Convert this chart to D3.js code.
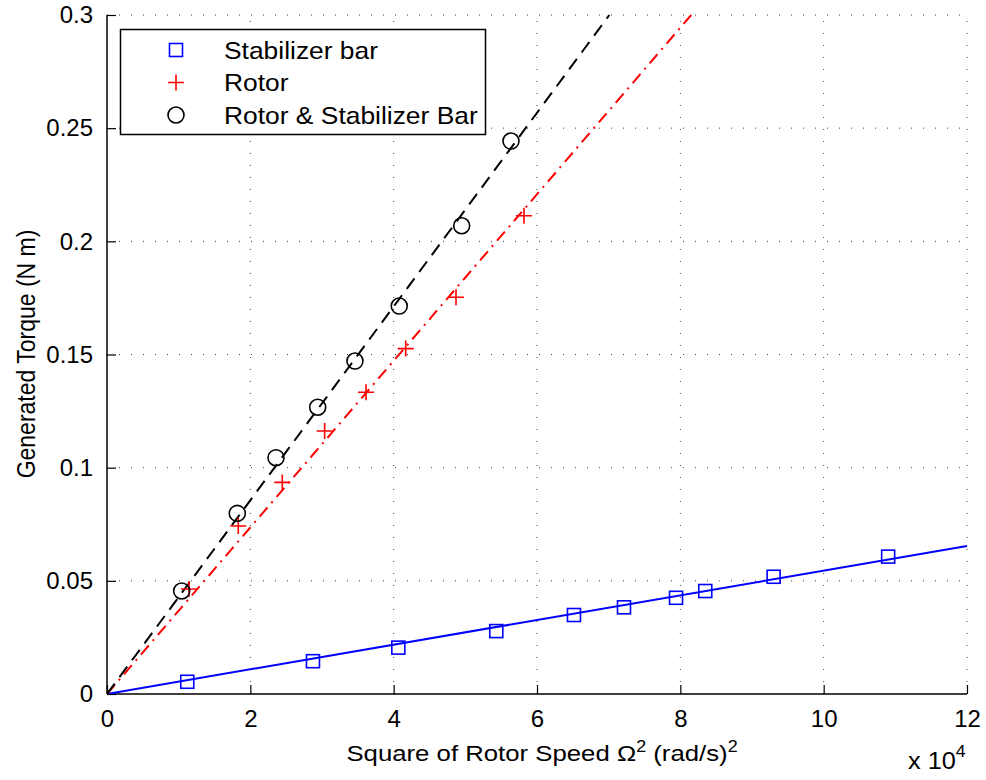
<!DOCTYPE html>
<html>
<head>
<meta charset="utf-8">
<script src="https://cdn.jsdelivr.net/npm/d3@7"></script>
<style>
  html, body { margin: 0; padding: 0; background: #fff; }
  svg { display: block; font-family: "Liberation Sans", Arial, Helvetica, sans-serif; }
</style>
</head>
<body>
<svg id="chart" width="986" height="780"></svg>
<script>
// Measured torque vs. squared rotor speed (x in units of 1e4 (rad/s)^2)
const stabX = [1.12, 2.874, 4.065, 5.432, 6.516, 7.214, 7.94, 8.348, 9.302, 10.9];
const stabY = [0.0054, 0.0145, 0.0205, 0.0278, 0.0349, 0.0383, 0.0425, 0.0455, 0.0518, 0.0607];

const rotorX = [1.144, 1.832, 2.446, 3.037, 3.614, 4.168, 4.87, 5.818];
const rotorY = [0.0464, 0.0742, 0.0935, 0.1162, 0.1333, 0.1526, 0.1753, 0.2113];

const bothX = [1.042, 1.818, 2.358, 2.94, 3.46, 4.078, 4.949, 5.637];
const bothY = [0.0455, 0.0798, 0.1044, 0.1267, 0.1471, 0.1714, 0.2069, 0.2443];

// Slopes of the least-squares lines through the origin (N m per 1e4 (rad/s)^2)
const fitSlopes = [0.00545, 0.0368, 0.0428];

const xTicks = [0, 2, 4, 6, 8, 10, 12];
const yTicks = [0, 0.05, 0.1, 0.15, 0.2, 0.25, 0.3];
const yTickLabels = ["0", "0.05", "0.1", "0.15", "0.2", "0.25", "0.3"];
const legendLabels = ["Stabilizer bar", "Rotor", "Rotor & Stabilizer Bar"];

const svg = d3.select("#chart");
const L = 107, R = 967, T = 15, B = 694;

const x = d3.scaleLinear().domain([0, 12]).range([L, R]);
const y = d3.scaleLinear().domain([0, 0.3]).range([B, T]);

svg.append("defs").append("clipPath").attr("id", "plotClip")
  .append("rect").attr("x", L).attr("y", T - 1).attr("width", R - L + 1).attr("height", B - T + 1);

// dotted grid
const grid = svg.append("g").attr("stroke", "#000").attr("stroke-width", 1)
  .attr("stroke-dasharray", "1,11").attr("opacity", 0.75);
xTicks.filter(d => d > 0).forEach(d => {
  grid.append("line").attr("x1", x(d)).attr("x2", x(d)).attr("y1", B).attr("y2", T);
});
yTicks.filter(d => d > 0).forEach(d => {
  grid.append("line").attr("x1", L).attr("x2", R).attr("y1", y(d)).attr("y2", y(d));
});

// axes with inward ticks
const xAxis = d3.axisBottom(x).tickValues(xTicks).tickSize(-9).tickPadding(16).tickFormat(d3.format("d"));
const yAxis = d3.axisLeft(y).tickValues(yTicks).tickSize(-9).tickPadding(14)
  .tickFormat((d, i) => yTickLabels[i]);

const gx = svg.append("g").attr("transform", `translate(0,${B})`).call(xAxis);
const gy = svg.append("g").attr("transform", `translate(${L},0)`).call(yAxis);
[gx, gy].forEach(g => {
  g.select(".domain").attr("stroke", "#000").attr("stroke-width", 1.5);
  g.selectAll(".tick line").attr("stroke", "#000").attr("stroke-width", 1.2);
  g.selectAll(".tick text").attr("fill", "#000").attr("font-size", 24)
    .attr("font-family", "'Liberation Sans', Arial, sans-serif");
});
gx.select(".domain").attr("d", `M${L},0H${R}`);
gy.select(".domain").attr("d", `M0,${B}V${T}`);

// fitted lines
const plot = svg.append("g").attr("clip-path", "url(#plotClip)");
const fitStyles = [
  { color: "#0000ff", dash: null },
  { color: "#ff0000", dash: "12,6,2,6" },
  { color: "#000000", dash: "13,8" }
];
const lineGen = d3.line().x(d => x(d[0])).y(d => y(d[1]));
fitSlopes.forEach((s, i) => {
  const xEnd = Math.min(12, 0.3 / s);
  plot.append("path")
    .attr("d", lineGen([[0, 0], [xEnd, s * xEnd]]))
    .attr("fill", "none")
    .attr("stroke", fitStyles[i].color)
    .attr("stroke-width", 2)
    .attr("stroke-dasharray", fitStyles[i].dash);
});

// markers
function square(g, cx, cy) {
  g.append("rect").attr("x", cx - 6.5).attr("y", cy - 6.5).attr("width", 13).attr("height", 13)
    .attr("fill", "none").attr("stroke", "#0000ff").attr("stroke-width", 1.6);
}
function cross(g, cx, cy) {
  g.append("path").attr("d", `M${cx - 8},${cy}H${cx + 8}M${cx},${cy - 8}V${cy + 8}`)
    .attr("fill", "none").attr("stroke", "#ff0000").attr("stroke-width", 1.6);
}
function circle(g, cx, cy) {
  g.append("circle").attr("cx", cx).attr("cy", cy).attr("r", 8)
    .attr("fill", "none").attr("stroke", "#000").attr("stroke-width", 1.6);
}
const marks = svg.append("g");
stabX.forEach((d, i) => square(marks, x(d), y(stabY[i])));
rotorX.forEach((d, i) => cross(marks, x(d), y(rotorY[i])));
bothX.forEach((d, i) => circle(marks, x(d), y(bothY[i])));

// legend
const leg = svg.append("g");
leg.append("rect").attr("x", 120.5).attr("y", 29.5).attr("width", 365).attr("height", 105)
  .attr("fill", "#fff").attr("stroke", "#000").attr("stroke-width", 1.5);
const rowY = [50, 82.5, 115];
const markerFns = [square, cross, circle];
legendLabels.forEach((lab, i) => {
  markerFns[i](leg, 176, rowY[i]);
  leg.append("text").attr("transform", `translate(224,${rowY[i]}) scale(1.1,1)`)
    .attr("dy", "0.36em").attr("font-size", 24).attr("fill", "#000").text(lab);
});

// axis titles
const xl = svg.append("text").attr("transform", "translate(542,761) scale(1.12,1)")
  .attr("text-anchor", "middle").attr("font-size", 23).attr("fill", "#000");
xl.append("tspan").text("Square of Rotor Speed \u03A9");
xl.append("tspan").attr("font-size", 16).attr("dy", -9).text("2");
xl.append("tspan").attr("dy", 9).text(" (rad/s)");
xl.append("tspan").attr("font-size", 16).attr("dy", -9).text("2");

const ex = svg.append("text").attr("transform", "translate(908,769) scale(1.1,1)")
  .attr("font-size", 23).attr("fill", "#000");
ex.append("tspan").text("x 10");
ex.append("tspan").attr("font-size", 16).attr("dy", -12).text("4");

svg.append("text")
  .attr("transform", "translate(35,354) scale(1.1,1) rotate(-90)")
  .attr("text-anchor", "middle").attr("font-size", 23).attr("fill", "#000")
  .text("Generated Torque (N m)");
</script>
</body>
</html>
